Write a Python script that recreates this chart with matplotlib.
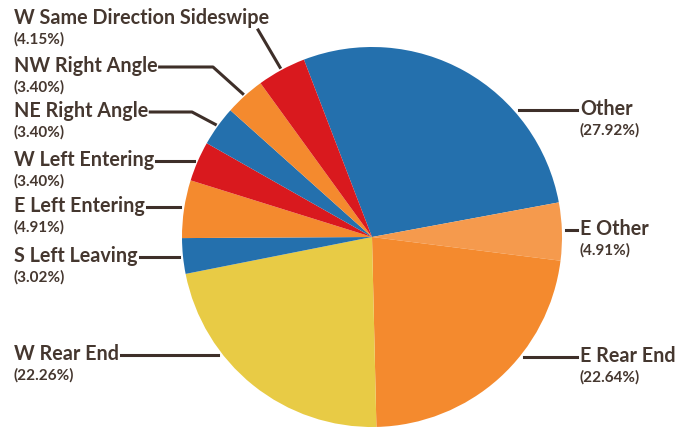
import numpy as np
import matplotlib.pyplot as plt

names = ['Other', 'E Other', 'E Rear End', 'W Rear End', 'S Left Leaving',
         'E Left Entering', 'W Left Entering', 'NE Right Angle', 'NW Right Angle',
         'W Same Direction Sideswipe']
shares = [27.92, 4.91, 22.64, 22.26, 3.02, 4.91, 3.40, 3.40, 3.40, 4.15]
colors = ['#2470ad', '#f59a4d', '#f48a2e', '#e8cb45', '#2470ad',
          '#f48a2e', '#d9191e', '#2470ad', '#f48a2e', '#d9191e']

# label layout in pixels from the top: text x, name y, side, elbow x
layout = {
    'W Same Direction Sideswipe': (14, 18, 'L', None),
    'NW Right Angle': (14, 66, 'L', 213),
    'NE Right Angle': (14, 111, 'L', 192),
    'W Left Entering': (14, 160, 'L', None),
    'E Left Entering': (14, 206, 'L', None),
    'S Left Leaving': (14, 256, 'L', None),
    'W Rear End': (14, 354, 'L', None),
    'Other': (580, 109, 'R', None),
    'E Other': (580, 229, 'R', None),
    'E Rear End': (580, 356, 'R', None),
}

W, H = 686, 429
txt_c = '#45372f'
line_c = '#3e2f29'
plt.rcParams['font.family'] = ['Lato', 'DejaVu Sans']

fig = plt.figure(figsize=(6.86, 4.29), dpi=100)
ax = fig.add_axes([0, 0, 1, 1])
cx, cy, R = 372, H - 237, 190
wedges, _ = ax.pie(shares, colors=colors, startangle=111, counterclock=False,
                   center=(cx, cy), radius=R, wedgeprops=dict(linewidth=0))
ax.set_xlim(0, W)
ax.set_ylim(0, H)
ax.set_aspect('equal')
ax.axis('off')

renderer = fig.canvas.get_renderer()
for w, name, s in zip(wedges, names, shares):
    x, ytop, side, elbow = layout[name]
    y = H - ytop
    t = ax.text(x, y, name, fontsize=14.2, fontweight='bold', color=txt_c,
                ha='left', va='center')
    ax.text(x, y - 21, '(%.2f%%)' % s, fontsize=11, fontweight='bold',
            color=txt_c, ha='left', va='center')
    bb = t.get_window_extent(renderer)
    ly = y - 1
    if name == 'W Same Direction Sideswipe':
        mid = np.deg2rad((w.theta1 + w.theta2) / 2)
        ax.plot([bb.x1 - 11, cx + (R + 3) * np.cos(mid)],
                [bb.y0 - 2, cy + (R + 3) * np.sin(mid)], color=line_c, lw=2.2)
    elif elbow is not None:
        mid = np.deg2rad((w.theta1 + w.theta2) / 2)
        ax.plot([bb.x1 + 2, elbow, cx + (R + 3) * np.cos(mid)],
                [ly, ly, cy + (R + 3) * np.sin(mid)], color=line_c, lw=2.2)
    else:
        dx = np.sqrt((R + 4) ** 2 - (ly - cy) ** 2)
        if side == 'L':
            ax.plot([bb.x1 + 2, cx - dx], [ly, ly], color=line_c, lw=2.2)
        else:
            ax.plot([cx + dx, bb.x0 - 3], [ly, ly], color=line_c, lw=2.2)

fig.savefig('out.png', dpi=100)
